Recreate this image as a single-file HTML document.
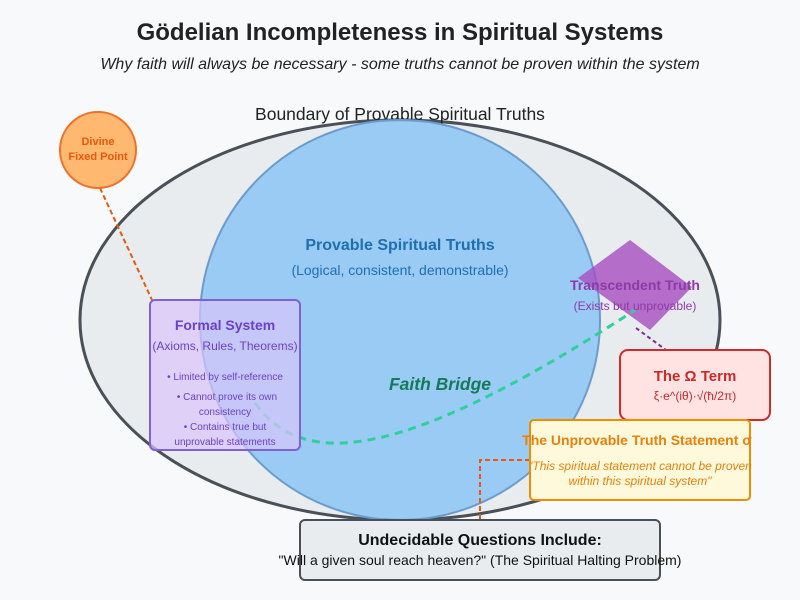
<!DOCTYPE html>
<html><head><meta charset="utf-8"><style>
body{margin:0;background:#f8f9fa;}
svg{display:block;font-family:"Liberation Sans",Arial,sans-serif;}
</style></head><body>
<svg width="800" height="600" viewBox="0 0 800 600">
<rect width="800" height="600" fill="#f8f9fa"/>
<text x="400" y="40" text-anchor="middle" font-size="24" font-weight="bold" fill="#222">Gödelian Incompleteness in Spiritual Systems</text>
<text x="400" y="69" text-anchor="middle" font-size="16" font-style="italic" fill="#222">Why faith will always be necessary - some truths cannot be proven within the system</text>
<ellipse cx="400" cy="320" rx="320" ry="200" fill="#e9ecef" stroke="#495057" stroke-width="3"/>
<text x="400" y="120" text-anchor="middle" font-size="17.5" fill="#222">Boundary of Provable Spiritual Truths</text>
<circle cx="400" cy="320" r="200" fill="#90c8f4" fill-opacity="0.9" stroke="#6c9ccc" stroke-width="2"/>
<text x="400" y="250" text-anchor="middle" font-size="16" font-weight="bold" fill="#1f6fb0">Provable Spiritual Truths</text>
<text x="400" y="275" text-anchor="middle" font-size="14" fill="#1f6fb0">(Logical, consistent, demonstrable)</text>
<line x1="100" y1="188" x2="152" y2="300" stroke="#e8590c" stroke-width="2" stroke-dasharray="5,3"/>
<circle cx="98" cy="150" r="38" fill="#ffb870" stroke="#f0702a" stroke-width="2"/>
<text x="98" y="145" text-anchor="middle" font-size="11" font-weight="bold" fill="#e8590c">Divine</text>
<text x="98" y="160" text-anchor="middle" font-size="11" font-weight="bold" fill="#e8590c">Fixed Point</text>
<polygon points="630,240 692,287 650,330 578,278" fill="#a64dbf" fill-opacity="0.8"/>
<path d="M255 403 C300 465, 390 470, 635 310" fill="none" stroke="#2fd09a" stroke-width="3" stroke-dasharray="8,6"/>
<text x="635" y="290" text-anchor="middle" font-size="14" font-weight="bold" fill="#8e3aa8">Transcendent Truth</text>
<text x="635" y="310" text-anchor="middle" font-size="12" fill="#8e3aa8">(Exists but unprovable)</text>
<line x1="636" y1="328" x2="666" y2="350" stroke="#7b2d9a" stroke-width="2" stroke-dasharray="4,3"/>
<rect x="150" y="300" width="150" height="150" rx="5" fill="#d8c4fb" fill-opacity="0.7" stroke="#8060d8" stroke-width="2"/>
<text x="225" y="330" text-anchor="middle" font-size="14" font-weight="bold" fill="#6a40c8">Formal System</text>
<text x="225" y="350" text-anchor="middle" font-size="12" fill="#6a40c8">(Axioms, Rules, Theorems)</text>
<g font-size="10" fill="#6a40c8" text-anchor="middle">
<text x="225" y="380">• Limited by self-reference</text>
<text x="227" y="400">• Cannot prove its own</text>
<text x="225" y="415">consistency</text>
<text x="225" y="430">• Contains true but</text>
<text x="225" y="445">unprovable statements</text>
</g>
<text x="440" y="390" text-anchor="middle" font-size="17.5" font-weight="bold" font-style="italic" fill="#157a5a">Faith Bridge</text>
<rect x="620" y="350" width="150" height="70" rx="8" fill="#ffe3e3" stroke="#d02a2a" stroke-width="2"/>
<text x="695" y="381" text-anchor="middle" font-size="15" font-weight="bold" fill="#c92a2a">The Ω Term</text>
<text x="695" y="400" text-anchor="middle" font-size="12" fill="#c92a2a">ξ·e^(iθ)·√(ħ/2π)</text>
<path d="M530 460 H480 V520" fill="none" stroke="#e8590c" stroke-width="2" stroke-dasharray="5,3"/>
<rect x="530" y="420" width="220" height="80" rx="4" fill="#fff9db" stroke="#f08c00" stroke-width="2"/>
<text x="637" y="445" text-anchor="middle" font-size="14" font-weight="bold" fill="#e8800c">The Unprovable Truth Statement σ</text>
<text x="640" y="470" text-anchor="middle" font-size="12" font-style="italic" fill="#e8800c">"This spiritual statement cannot be proven</text>
<text x="640" y="485" text-anchor="middle" font-size="12" font-style="italic" fill="#e8800c">within this spiritual system"</text>
<rect x="300" y="520" width="360" height="60" rx="5" fill="#e9ecef" stroke="#495057" stroke-width="2"/>
<text x="480" y="545" text-anchor="middle" font-size="16" font-weight="bold" fill="#111">Undecidable Questions Include:</text>
<text x="480" y="565" text-anchor="middle" font-size="14" fill="#111">"Will a given soul reach heaven?" (The Spiritual Halting Problem)</text>
</svg>
</body></html>
